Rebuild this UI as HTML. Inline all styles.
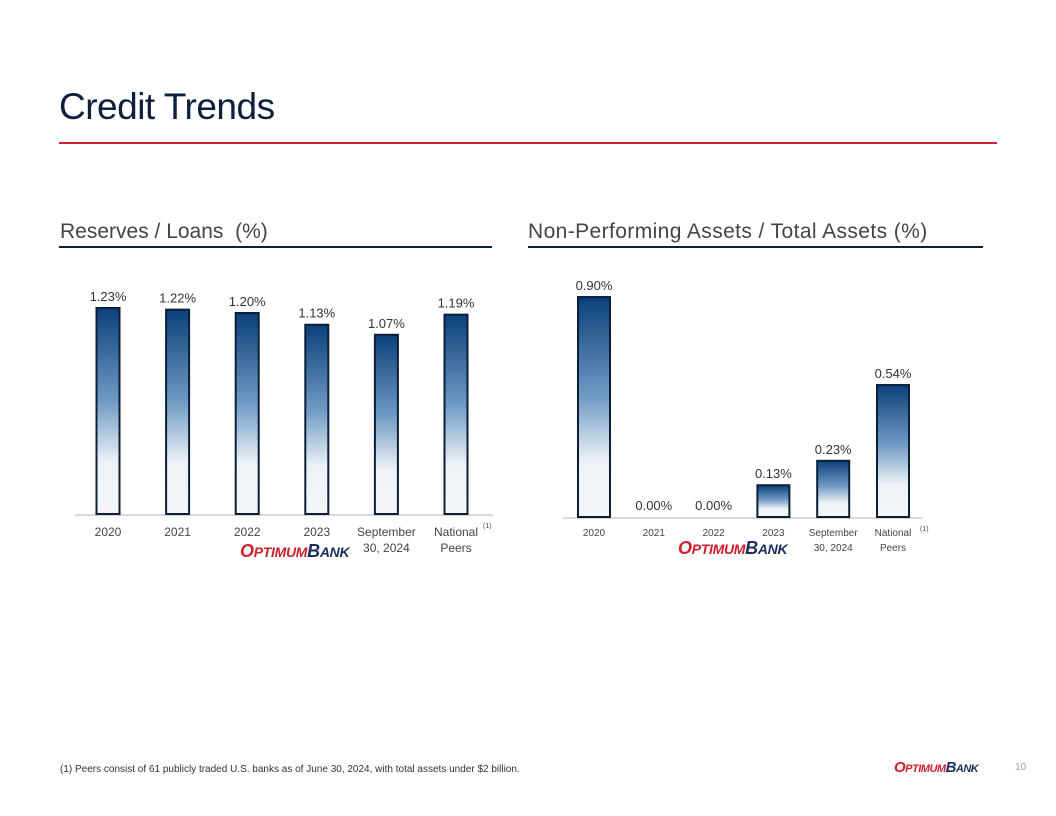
<!DOCTYPE html>
<html><head><meta charset="utf-8"><style>
body{margin:0;width:1056px;height:816px;background:#fff;position:relative;overflow:hidden;font-family:"Liberation Sans",sans-serif}
.abs{position:absolute}
</style></head><body>
<div class="abs" style="left:59px;top:86px;font-size:37px;color:#0d1f3c;font-family:'Liberation Sans',sans-serif;letter-spacing:-0.5px">Credit Trends</div>
<div class="abs" style="left:59px;top:142px;width:938px;height:2px;background:#d0202e"></div>
<div class="abs" style="left:60px;top:220px;font-size:21px;color:#444">Reserves / Loans&nbsp; (%)</div>
<div class="abs" style="left:59px;top:246px;width:433px;height:2px;background:#0d1f3c"></div>
<div class="abs" style="left:528px;top:220px;font-size:21px;color:#444;letter-spacing:0.4px">Non-Performing Assets / Total Assets (%)</div>
<div class="abs" style="left:528px;top:246px;width:455px;height:2px;background:#0d1f3c"></div>
<svg class="abs" style="left:0;top:0" width="1056" height="816" id="svg">
<defs><linearGradient id="g" x1="0" y1="0" x2="0" y2="1">
<stop offset="0" stop-color="#0b4079"/><stop offset="0.45" stop-color="#6f9ac4"/><stop offset="0.75" stop-color="#eef2f6"/><stop offset="1" stop-color="#f4f6f9"/></linearGradient></defs>
</svg>
<div class="abs" style="left:60px;top:764px;font-size:10px;color:#333">(1) Peers consist of 61 publicly traded U.S. banks as of June 30, 2024, with total assets under $2 billion.</div>
<div class="abs" style="left:894px;top:759px;font-size:15px;font-weight:bold;font-style:italic;letter-spacing:-0.5px"><span style="color:#d0202e">O<span style="font-size:11px">PTIMUM</span></span><span style="color:#1b2f5e">B<span style="font-size:11px">ANK</span></span></div>
<div class="abs" style="left:1015px;top:762px;font-size:10px;color:#999">10</div>
<script>
const leftCats=["2020","2021","2022","2023","September|30, 2024","National|Peers"];
const leftVals=[1.23,1.22,1.20,1.13,1.07,1.19];
const leftLabels=["1.23%","1.22%","1.20%","1.13%","1.07%","1.19%"];
const rightCats=["2020","2021","2022","2023","September|30, 2024","National|Peers"];
const rightVals=[0.90,0.00,0.00,0.13,0.23,0.54];
const rightLabels=["0.90%","0.00%","0.00%","0.13%","0.23%","0.54%"];
const NS="http://www.w3.org/2000/svg";
const svg=document.getElementById('svg');
function mk(t,a){const e=document.createElementNS(NS,t);for(const k in a)e.setAttribute(k,a[k]);svg.appendChild(e);return e;}
function chart(cfg){
  const {cats,vals,labels,x0,step,base,scale,bw,ax0,ax1,fs,fs2,pre}=cfg;
  const ax=mk('line',{x1:ax0,x2:ax1,y1:base+1,y2:base+1,stroke:'#d8d8d8','stroke-width':2});
  
  
  vals.forEach((v,i)=>{
    const cx=x0+i*step, h=v*scale;
    if(h>0){
      const r=mk('rect',{x:cx-bw/2,y:base-h,width:bw,height:h,fill:'url(#g)',stroke:'#0b1f38','stroke-width':2});
      
      
    }
    const t=mk('text',{x:cx,y:base-h-7,'text-anchor':'middle','font-size':fs,fill:'#333','font-family':'Liberation Sans, sans-serif'});
    t.textContent=labels[i];
    
    
    const parts=cats[i].split('|');
    parts.forEach((p,j)=>{
      const c=mk('text',{x:cx,y:base+cfg.ly0+j*cfg.lh,'text-anchor':'middle','font-size':fs2,fill:'#444','font-family':'Liberation Sans, sans-serif'});
      c.textContent=p;
      
      
    });
    if(i===5){
      const s=mk('text',{x:cx+27,y:base+14,'font-size':7,fill:'#444'});
      s.textContent='(1)';
      
      
    }
  });
  const lg=mk('text',{x:cfg.lx,y:cfg.ly,'font-size':18,'font-weight':'bold','font-style':'italic','font-family':'Liberation Sans, sans-serif','letter-spacing':'-0.3'});
  lg.innerHTML='<tspan fill="#d0202e">O</tspan><tspan fill="#d0202e" font-size="14">PTIMUM</tspan><tspan fill="#1b2f5e">B</tspan><tspan fill="#1b2f5e" font-size="14">ANK</tspan>';
  
  
}
chart({cats:leftCats,vals:leftVals,labels:leftLabels,x0:108,step:69.6,base:514,scale:167.5,bw:23,ax0:75,ax1:493,fs:13,fs2:12,pre:'left-',lx:240,ly:557,ly0:22,lh:16});
chart({cats:rightCats,vals:rightVals,labels:rightLabels,x0:594,step:59.8,base:517,scale:244.4,bw:32,ax0:563,ax1:923,fs:13,fs2:10,pre:'right-',lx:678,ly:554,ly0:19,lh:15});
</script>
</body></html>
